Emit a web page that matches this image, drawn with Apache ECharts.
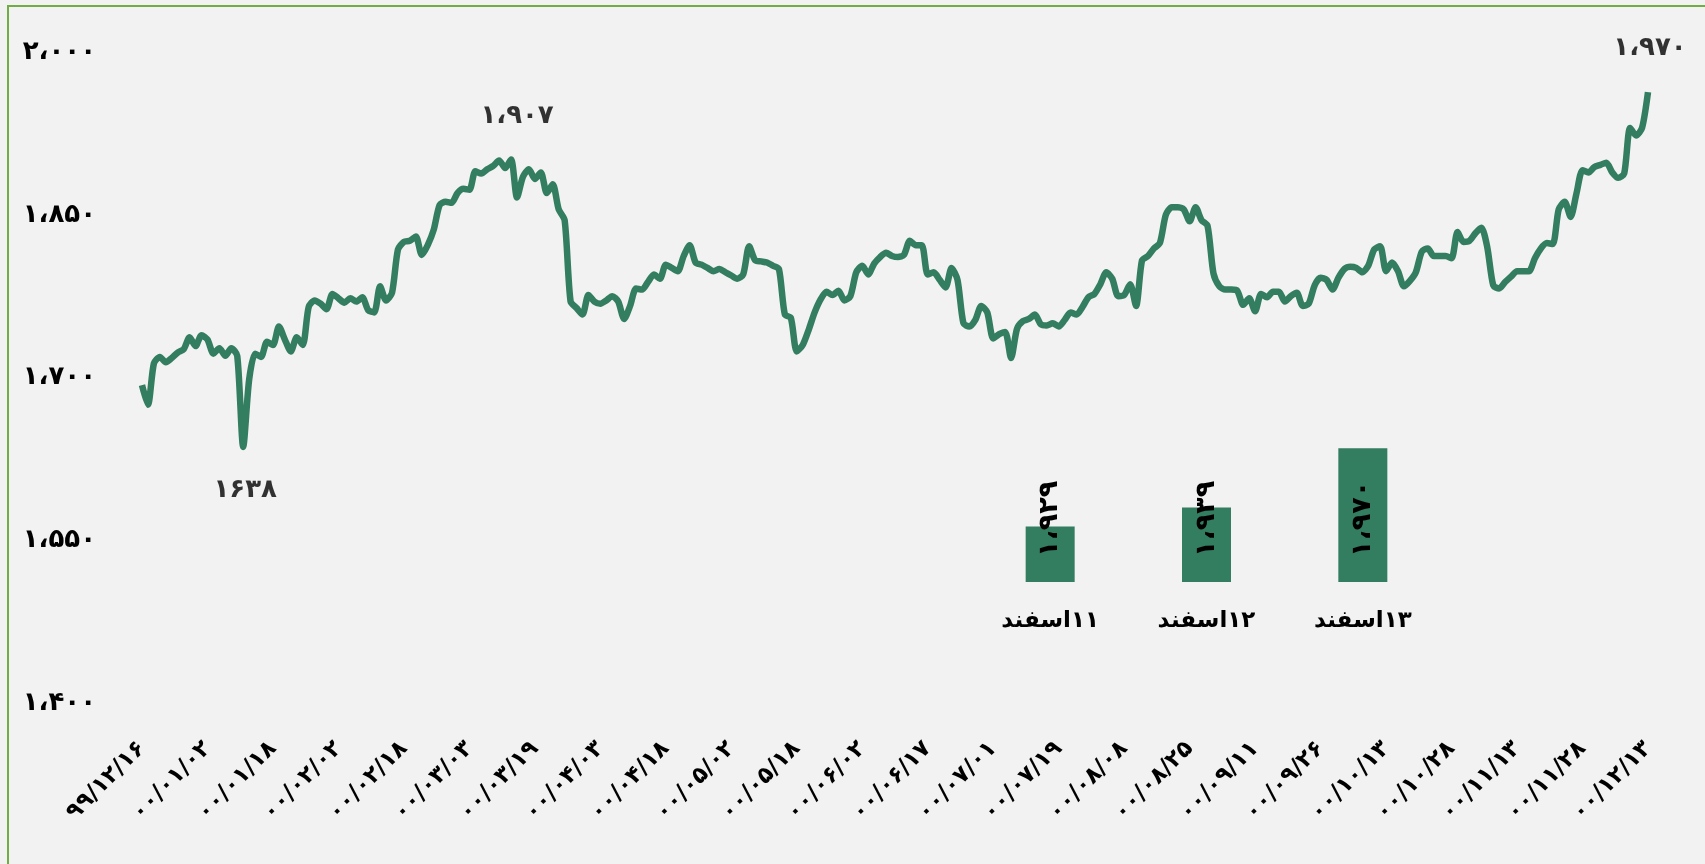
<!DOCTYPE html>
<html>
<head>
<meta charset="utf-8">
<script src="https://cdn.jsdelivr.net/npm/echarts@6/dist/echarts.min.js"></script>
<style>
html,body{margin:0;padding:0;background:#f2f2f2;overflow:hidden;}
#chart{position:absolute;left:0;top:0;width:1705px;height:864px;}
#frame{position:absolute;left:7px;top:5px;width:1800px;height:1000px;border-left:2.5px solid #70ad47;border-top:2.5px solid #70ad47;pointer-events:none;}
</style>
</head>
<body>
<div id="chart"></div>
<div id="frame"></div>
<script>
// daily series (one value per trading day, 99/12/16 .. 00/12/13)
const lineValues = [
1693,1675,1713,1719,1714,1718,1723,1726,1737,1729,
1739,1735,1722,1727,1720,1727,1720,1636,1698,1722,
1719,1733,1730,1747,1735,1724,1737,1730,1765,1771,
1768,1763,1777,1773,1769,1773,1770,1774,1762,1760,
1784,1771,1778,1818,1825,1826,1830,1813,1822,1836,
1859,1862,1861,1870,1874,1873,1890,1888,1892,1895,
1900,1893,1901,1866,1885,1892,1883,1889,1870,1878,
1855,1845,1770,1764,1758,1776,1770,1768,1771,1775,
1770,1754,1766,1782,1781,1788,1795,1791,1804,1801,
1798,1812,1822,1806,1804,1801,1798,1800,1797,1794,
1791,1795,1821,1808,1807,1806,1803,1800,1758,1755,
1724,1730,1744,1760,1772,1779,1776,1780,1771,1775,
1797,1803,1795,1805,1811,1815,1812,1811,1813,1826,
1822,1822,1795,1797,1790,1783,1801,1790,1750,1747,
1753,1766,1760,1736,1740,1742,1718,1745,1752,1754,
1758,1749,1748,1750,1747,1753,1760,1758,1765,1774,
1777,1786,1797,1791,1775,1776,1786,1766,1808,1812,
1819,1824,1850,1857,1857,1855,1844,1857,1845,1840,
1796,1784,1781,1781,1780,1767,1773,1761,1777,1774,
1779,1779,1770,1775,1778,1766,1768,1785,1792,1790,
1781,1792,1800,1802,1801,1797,1803,1818,1821,1798,
1806,1798,1784,1789,1797,1816,1819,1812,1812,1812,
1810,1834,1825,1826,1833,1838,1820,1785,1782,1788,
1793,1798,1798,1798,1810,1819,1824,1823,1855,1862,
1848,1870,1891,1889,1894,1896,1898,1889,1884,1888,
1930,1923,1930,1963
];
// x tick labels (every 11th trading day)
const xTickLabels = [
'۹۹/۱۲/۱۶','۰۰/۰۱/۰۲','۰۰/۰۱/۱۸','۰۰/۰۲/۰۲','۰۰/۰۲/۱۸','۰۰/۰۳/۰۳',
'۰۰/۰۳/۱۹','۰۰/۰۴/۰۳','۰۰/۰۴/۱۸','۰۰/۰۵/۰۲','۰۰/۰۵/۱۸','۰۰/۰۶/۰۲',
'۰۰/۰۶/۱۷','۰۰/۰۷/۰۱','۰۰/۰۷/۱۹','۰۰/۰۸/۰۸','۰۰/۰۸/۲۵','۰۰/۰۹/۱۱',
'۰۰/۰۹/۲۶','۰۰/۱۰/۱۳','۰۰/۱۰/۲۸','۰۰/۱۱/۱۳','۰۰/۱۱/۲۸','۰۰/۱۲/۱۳'
];
const tickStep = 11;
const yTicks = [1400, 1550, 1700, 1850, 2000];
// annotated points
const annotIndex = [17, 62, 253];
const annotText = ['۱۶۳۸', '۱،۹۰۷', '۱،۹۷۰'];
// inset bars
const barCategories = ['۱۱اسفند', '۱۲اسفند', '۱۳اسفند'];
const barValues = [1929, 1939, 1970];

const FONT = 'DejaVu Sans';
const GREEN = '#337d60';
const RLM = '\u200F';
function toFa(s){
  return String(s).replace(/[0-9]/g, d => '۰۱۲۳۴۵۶۷۸۹'[+d]).replace(/,/g, '،');
}
function fmt(n){ return toFa(Number(n).toLocaleString('en-US')); }

const chart = echarts.init(document.getElementById('chart'), null, {renderer:'canvas'});
const lineData = lineValues.map((v,i)=>[i,v]);
const annotData = annotIndex.map((idx,k)=>({
  value:[idx, lineValues[idx]],
  label:{
    show:true,
    position: k===0 ? 'bottom' : 'top',
    distance: k===0 ? 30 : 30,
    offset: k===1 ? [6,0] : [2,0],
    formatter: annotText[k]
  }
}));

chart.setOption({
  backgroundColor:'transparent',
  animation:false,
  grid:[
    {left:142, right:57, top:52, bottom:161, containLabel:false, outerBoundsMode:'none'},
    {left:972, width:469, top:391, height:191, containLabel:false, outerBoundsMode:'none'}
  ],
  xAxis:[
    {type:'value', gridIndex:0, min:0, max:(xTickLabels.length-1)*tickStep, interval:tickStep,
     axisLine:{show:false}, axisTick:{show:false}, splitLine:{show:false},
     axisLabel:{rotate:45, margin:42, fontFamily:FONT, fontSize:23, fontWeight:'bold', color:'#000',
       showMinLabel:true, showMaxLabel:true,
       formatter:v=>xTickLabels[Math.round(v/tickStep)] || ''}},
    {type:'category', gridIndex:1, data:barCategories,
     axisLine:{show:false}, axisTick:{show:false}, splitLine:{show:false},
     axisLabel:{margin:28, fontFamily:FONT, fontSize:23, fontWeight:'bold', color:'#000',
       formatter:v=>RLM+v}}
  ],
  yAxis:[
    {type:'value', gridIndex:0, min:yTicks[0], max:yTicks[yTicks.length-1], interval:yTicks[1]-yTicks[0],
     axisLine:{show:false}, axisTick:{show:false}, splitLine:{show:false},
     axisLabel:{margin:46, fontFamily:FONT, fontSize:26, fontWeight:'bold', color:'#000', formatter:v=>fmt(v)}},
    {type:'value', gridIndex:1, min:1900, max:2000, show:false,
     axisLine:{show:false}, axisTick:{show:false}, splitLine:{show:false}, axisLabel:{show:false}}
  ],
  series:[
    {type:'line', xAxisIndex:0, yAxisIndex:0, data:lineData, showSymbol:false, symbol:'none',
     smooth:0.25, lineStyle:{color:GREEN, width:6.5}, itemStyle:{color:GREEN}, z:2},
    {type:'scatter', xAxisIndex:0, yAxisIndex:0, data:annotData, symbolSize:1,
     itemStyle:{color:'rgba(0,0,0,0)'},
     label:{color:'#000', fontFamily:FONT, fontSize:26, fontWeight:'bold'}, z:3},
    {type:'bar', xAxisIndex:1, yAxisIndex:1, data:barValues, barWidth:49,
     itemStyle:{color:GREEN},
     label:{show:true, position:'insideBottom', distance:25, rotate:90, align:'left', verticalAlign:'middle',
       fontFamily:FONT, fontSize:27, fontWeight:'bold', color:'#000', formatter:p=>fmt(p.value)}}
  ]
});
</script>
</body>
</html>
